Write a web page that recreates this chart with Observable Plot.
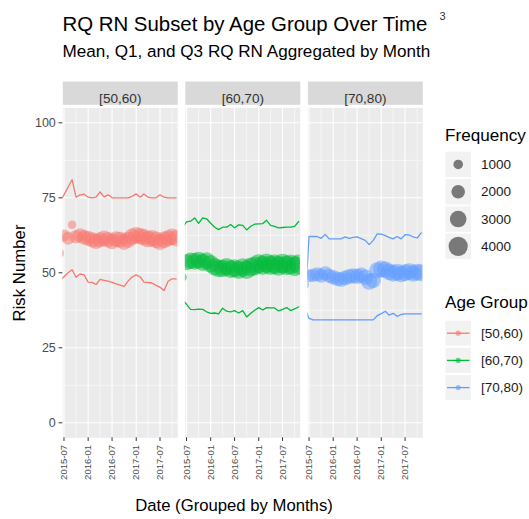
<!DOCTYPE html>
<html><head><meta charset="utf-8">
<script src="https://cdn.jsdelivr.net/npm/d3@7"></script>
<script src="https://cdn.jsdelivr.net/npm/@observablehq/plot@0.6"></script>
<style>
body{margin:0;background:#fff;}
#wrap{position:relative;width:529px;height:519px;overflow:hidden;font-family:"Liberation Sans",Arial,sans-serif;}
#wrap svg{position:absolute;left:0;top:0;}
</style></head><body>
<div id="wrap"></div>
<script>
const groups = ["[50,60)", "[60,70)", "[70,80)"];
const groupColors = ["#F8766D", "#00BA38", "#619CFF"];
const months = ["2015-06","2015-07","2015-08","2015-09","2015-10","2015-11","2015-12",
  "2016-01","2016-02","2016-03","2016-04","2016-05","2016-06","2016-07","2016-08","2016-09","2016-10","2016-11","2016-12",
  "2017-01","2017-02","2017-03","2017-04","2017-05","2017-06","2017-07","2017-08","2017-09","2017-10","2017-11"];
const xMajor = ["2015-07","2016-01","2016-07","2017-01","2017-07"];
const xMinor = ["2015-10","2016-04","2016-10","2017-04","2017-10"];
const yMajor = [0, 25, 50, 75, 100];
const yMinor = [12.5, 37.5, 62.5, 87.5];
const freqLegend = [1000, 2000, 3000, 4000];

const mean50 = [56.5,62.5,61.5,66,62,62.5,61.8,61.5,61,60.5,61,61.5,61,60.5,61.2,61,60.3,61,62,62.5,62.2,61.8,61.2,61.5,61,60.3,61,61.5,62,61.5];
const q1_50  = [47.5,48.7,50,51,48.5,49.6,49.3,46.9,46.8,46.1,47.8,47.5,47.2,46.8,46.3,45.9,45.5,47.3,48.6,49.3,48.6,46.9,46.8,46.6,45.8,45.2,44.1,47.2,48,48];
const q3_50  = [74,76,78.5,81,75.2,76,76.2,75.2,75,75.2,77,75.3,76,75,75,75,75,75,75.5,76.3,75.2,76.3,75.2,75,75,76,75.2,75,75,75];
const freq50 = [700,1500,1800,800,2000,2200,2300,2400,2500,2600,2500,2600,2600,2700,2700,2800,2800,2800,3000,3000,2900,3000,2900,3000,3000,2900,3000,2900,3000,2900];

const mean60 = [48.5,53.5,54,53.8,54.2,53.5,54,53,52,51.5,51.5,52,51.3,51.5,51,51.8,51,52,52.3,53,52.5,53.2,52.5,52.8,52.3,53,52.5,52.8,52.2,52.8];
const q1_60  = [41,39.5,37.8,37.7,37.9,37.8,37,36.5,36.6,36.3,38.2,37.2,37,37.4,36.6,37.4,35.3,36.5,37.5,38.4,37.6,38.4,38.3,38.3,37.3,37.8,38.4,37.4,38,38.6];
const q3_60  = [65,67,67.2,68.3,66.5,68.3,68,66.5,65.2,64.4,65.2,65.2,66.1,65,66,65.8,64.3,65.5,66.2,66.3,66.4,67.5,65.8,65.5,65,65.1,65.2,65.2,65.5,67.1];
const freq60 = [800,2800,3000,3000,3100,3200,3200,3300,3300,3400,3300,3400,3500,3500,3600,3600,3700,3800,3900,4000,4000,4100,4100,4200,4200,4300,4200,4300,4300,4200];

const mean70 = [46,49,49.2,49.5,49,49.8,49,48.5,48,47.8,48.3,48.8,49,48.8,49.2,48.5,47,47.5,50.8,51.3,51,50.3,49.8,50.2,49.6,50,50.4,49.8,50.2,50];
const q1_70  = [38,34.8,34.3,34.3,34.3,34.3,34.3,34.3,34.3,34.3,34.3,34.3,34.3,34.3,34.3,34.3,34.3,34.3,35.7,36.4,37.2,35.9,36.5,35.5,36.1,36.3,36.3,36.3,36.3,36.3];
const q3_70  = [40,62.1,62.1,62.1,61.5,62.8,61.3,61.3,61.3,61.3,62,61.5,61.8,62,61.4,60.8,59.4,60.8,63,62.9,62.4,61.8,61.3,62.1,61.3,62.7,62.6,62,61.6,63.3];
const freq70 = [700,1800,2000,2100,2100,2200,2200,2300,2300,2400,2400,2400,2500,2500,2500,2600,2800,2600,2900,3000,3000,3000,3000,3100,3000,3100,3100,3000,3100,3100];

const parse = d3.utcParse("%Y-%m");
const series = [
  {group: groups[0], mean: mean50, q1: q1_50, q3: q3_50, freq: freq50},
  {group: groups[1], mean: mean60, q1: q1_60, q3: q3_60, freq: freq60},
  {group: groups[2], mean: mean70, q1: q1_70, q3: q3_70, freq: freq70}
];
const rows = [];
for (const s of series) months.forEach((m, i) => rows.push({
  group: s.group, date: parse(m), mean: s.mean[i], q1: s.q1[i], q3: s.q3[i], freq: s.freq[i]
}));

const font = "Liberation Sans, Arial, sans-serif";
const W = 529, H = 519, mL = 62.3, mR = 106.7, mT = 107.3, mB = 81.7;
const panelH = H - mT - mB;

const chart = Plot.plot({
  width: W, height: H,
  marginLeft: mL, marginRight: mR, marginTop: mT, marginBottom: mB,
  style: {fontFamily: font, background: "transparent", overflow: "visible"},
  fx: {domain: groups, paddingInner: 0.062, paddingOuter: 0, round: false, axis: null, label: null},
  x: {type: "utc", domain: [new Date(Date.UTC(2015,5,22)), new Date(Date.UTC(2017,10,13))], axis: null},
  y: {domain: [-5, 105], axis: null},
  r: {domain: [0, 4000], range: [0, 9.6]},
  color: {domain: groups, range: groupColors},
  marks: [
    Plot.frame({fill: "#ebebeb", stroke: "none"}),
    Plot.frame({fill: "#d9d9d9", stroke: "none", insetTop: -26.3, insetBottom: panelH + 3}),
    Plot.gridY(yMinor, {stroke: "#fff", strokeOpacity: 1, strokeWidth: 0.55}),
    Plot.gridX(xMinor.map(parse), {stroke: "#fff", strokeOpacity: 1, strokeWidth: 0.55}),
    Plot.gridY(yMajor, {stroke: "#fff", strokeOpacity: 1, strokeWidth: 1.1}),
    Plot.gridX(xMajor.map(parse), {stroke: "#fff", strokeOpacity: 1, strokeWidth: 1.1}),
    Plot.line(rows, {x: "date", y: "q3", z: "group", fx: "group", stroke: "group", strokeWidth: 1.3, clip: true}),
    Plot.line(rows, {x: "date", y: "q1", z: "group", fx: "group", stroke: "group", strokeWidth: 1.3, clip: true}),
    Plot.dot(rows, {x: "date", y: "mean", r: "freq", fx: "group", fill: "group", fillOpacity: 0.5, stroke: "none", clip: true}),
    Plot.axisY(yMajor, {tickSize: 3.7, tickPadding: 3.3, fontSize: 12.5, fill: "#4d4d4d", stroke: "#333", label: null}),
    Plot.axisX(xMajor.map(parse), {tickSize: 3.7, tickPadding: 3.5, tickRotate: -90, fontSize: 9.5, fill: "#4d4d4d", stroke: "#333",
      tickFormat: d3.utcFormat("%Y-%m"), label: null}),
    Plot.text(groups, {fx: d => d, text: d => d, frameAnchor: "top", dy: -14.6, fontSize: 13.6, fill: "#333"})
  ]
});
const wrap = document.getElementById("wrap");
wrap.appendChild(chart);

let rFn, cFn;
try { const rs = chart.scale("r"); rFn = rs.apply ? rs.apply : d3.scaleSqrt().domain(rs.domain).range(rs.range); }
catch (e) { rFn = d3.scaleSqrt().domain([0,4000]).range([0,9.6]); }
try { const cs = chart.scale("color"); cFn = cs.apply ? cs.apply : d3.scaleOrdinal(cs.domain, cs.range); }
catch (e) { cFn = d3.scaleOrdinal(groups, groupColors); }

const ov = d3.select(wrap).append("svg").attr("width", W).attr("height", H)
  .style("font-family", font).style("pointer-events", "none");

ov.append("text").attr("x", 62.5).attr("y", 30.5).attr("font-size", 20.4).attr("fill", "#000")
  .text("RQ RN Subset by Age Group Over Time");
ov.append("text").attr("x", 439.5).attr("y", 20).attr("font-size", 11).attr("fill", "#333").text("3");
ov.append("text").attr("x", 62.5).attr("y", 56.5).attr("font-size", 17.1).attr("fill", "#000")
  .text("Mean, Q1, and Q3 RQ RN Aggregated by Month");
ov.append("text").attr("transform", "translate(24.8,273) rotate(-90)").attr("text-anchor", "middle")
  .attr("font-size", 16.8).attr("fill", "#000").text("Risk Number");
ov.append("text").attr("x", 234).attr("y", 510.5).attr("text-anchor", "middle")
  .attr("font-size", 16.7).attr("fill", "#000").text("Date (Grouped by Months)");

ov.append("text").attr("x", 445).attr("y", 140.7).attr("font-size", 17.1).attr("fill", "#000").text("Frequency");
freqLegend.forEach((v, i) => {
  const y0 = 151.7 + i * 27.3;
  ov.append("rect").attr("x", 445.5).attr("y", y0).attr("width", 25.5).attr("height", 25.5).attr("fill", "#f2f2f2");
  ov.append("circle").attr("cx", 458.2).attr("cy", y0 + 12.75).attr("r", rFn(v)).attr("fill", "#000").attr("fill-opacity", 0.5);
  ov.append("text").attr("x", 481).attr("y", y0 + 12.75).attr("dy", "0.35em").attr("font-size", 13.5).attr("fill", "#1a1a1a").text(v);
});
ov.append("text").attr("x", 445).attr("y", 308.3).attr("font-size", 17.1).attr("fill", "#000").text("Age Group");
groups.forEach((g, i) => {
  const y0 = 320.7 + i * 27.2;
  ov.append("rect").attr("x", 445.5).attr("y", y0).attr("width", 25.5).attr("height", 25).attr("fill", "#f2f2f2");
  ov.append("line").attr("x1", 447).attr("x2", 469.5).attr("y1", y0 + 12.5).attr("y2", y0 + 12.5)
    .attr("stroke", cFn(g)).attr("stroke-width", 1.3);
  ov.append("circle").attr("cx", 458.2).attr("cy", y0 + 12.5).attr("r", 2.6).attr("fill", cFn(g)).attr("fill-opacity", 0.6);
  ov.append("text").attr("x", 481).attr("y", y0 + 12.5).attr("dy", "0.35em").attr("font-size", 13.5).attr("fill", "#1a1a1a").text(g);
});
</script>
</body></html>
